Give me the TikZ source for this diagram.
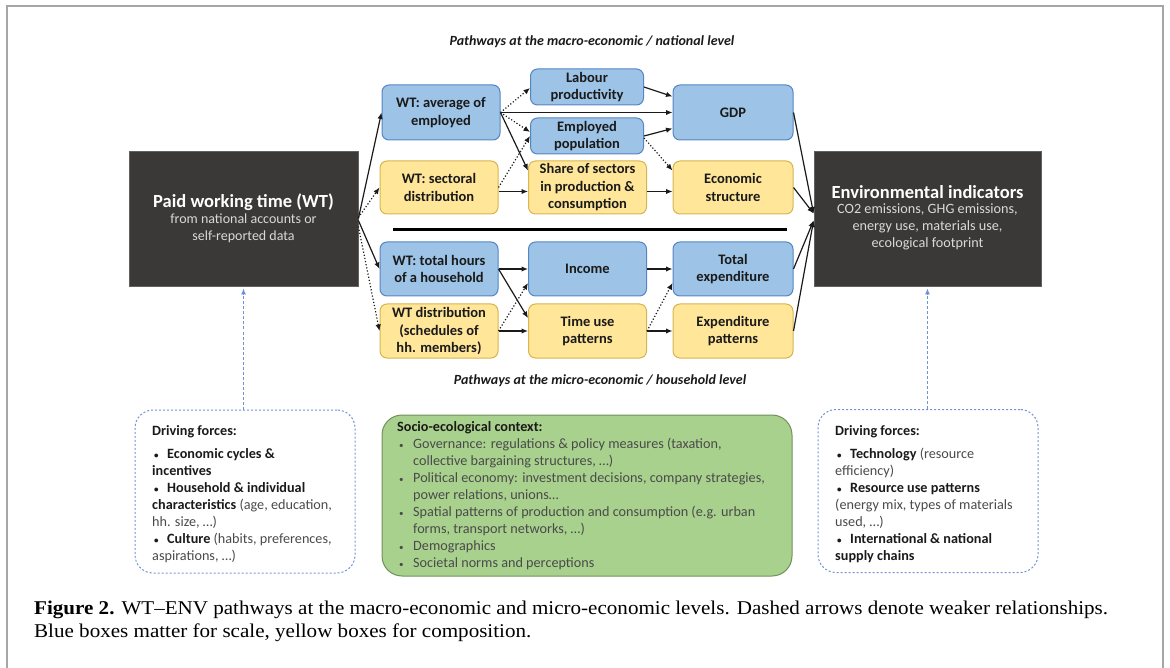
\documentclass[tikz,border=0pt]{standalone}
\usepackage{fontspec}
\setmainfont{Carlito}
\newfontfamily\capfont[FakeStretch=1.08]{Liberation Serif}
\usetikzlibrary{arrows.meta,calc}
\definecolor{bfill}{HTML}{9DC3E6}
\definecolor{bdraw}{HTML}{5585C5}
\definecolor{yfill}{HTML}{FFE699}
\definecolor{ydraw}{HTML}{D9B44E}
\definecolor{darkfill}{HTML}{3B3838}
\definecolor{gfill}{HTML}{A9D18E}
\definecolor{gdraw}{HTML}{71905A}
\definecolor{dashblue}{HTML}{6F93D6}
\definecolor{txtgray}{HTML}{4A4A4A}
\definecolor{txtdark}{HTML}{1A1A1A}
\definecolor{framegray}{HTML}{A6A6A6}
\definecolor{subwhite}{HTML}{D9D9D9}
\newcommand\bb[1]{{\bfseries\color{txtdark}#1}}
\newcommand\sbul{{\fontsize{9}{9}\selectfont\textbullet}}
\newcommand\blt{\makebox[16pt][l]{\hspace{2pt}\sbul}}
\newcommand\ind{\hspace*{16pt}}
\newcommand\dbl{\makebox[15pt][l]{\hspace{2pt}\sbul}}
\begin{document}
\begin{tikzpicture}[x=1pt,y=-1pt,
  box/.style={draw, rounded corners=7pt, line width=1pt, align=center,
    font=\bfseries\fontsize{14.5}{17.5}\selectfont, inner sep=0pt, text=txtdark},
  bluebox/.style={box, fill=bfill, draw=bdraw},
  yelbox/.style={box, fill=yfill, draw=ydraw},
  darkbox/.style={fill=darkfill, draw=darkfill!80!white, line width=0.8pt, inner sep=0pt},
  darktitle/.style={text=white, inner sep=0pt, font=\bfseries\fontsize{18.5}{22}\selectfont},
  darksub/.style={text=subwhite, align=center, inner sep=0pt, anchor=north},
  arr/.style={-{Latex[length=6.5pt,width=5.5pt]}, line width=1.2pt, draw=txtdark},
  darr/.style={arr, dotted},
  dfbox/.style={draw=dashblue, line width=1pt, dash pattern=on 2pt off 2pt, rounded corners=18pt},
  dfarr/.style={draw=dashblue, line width=1pt, dash pattern=on 3pt off 2pt, -{Latex[length=6pt,width=5pt,fill=dashblue!90!black]}},
  lvl/.style={font=\bfseries\itshape\fontsize{14}{16}\selectfont, text=txtdark},
  dftext/.style={anchor=north west, align=left, inner sep=0pt, text=txtgray, font=\fontsize{14.2}{17}\selectfont},
  captext/.style={anchor=base west, inner sep=0pt, font=\capfont\fontsize{19.5}{24}\selectfont}
]
\useasboundingbox (0,0) rectangle (1170,668);
% frame
\draw[framegray, line width=1.5pt] (7,668) -- (7,6) -- (1163,6) -- (1163,668);

% level titles
\node[lvl] (macro) at (592,42) {Pathways at the macro-economic / national level};
\node[lvl] (micro) at (600,381) {Pathways at the micro-economic / household level};

% dark boxes
\node[darkbox, minimum width=229pt, minimum height=135pt] (paid) at (243.5,218.5) {};
\node[darktitle] (paidt) at (243.5,202) {Paid working time (WT)};
\node[darksub, font=\fontsize{14}{16.5}\selectfont] (paids) at (243.5,214) {from national accounts or\\self-reported data};
\node[darkbox, minimum width=227pt, minimum height=135pt] (env) at (927.5,218.5) {};
\node[darktitle] (envt) at (927.5,192) {Environmental indicators};
\node[darksub, font=\fontsize{14.2}{17}\selectfont] (envs) at (927.5,204) {CO2 emissions, GHG emissions,\\energy use, materials use,\\ecological footprint};

% macro boxes
\node[bluebox, minimum width=118pt, minimum height=55pt] (avg) at (441,112.5) {WT: average of\\employed};
\node[bluebox, minimum width=113pt, minimum height=36pt] (lab) at (587,87) {Labour\\productivity};
\node[bluebox, minimum width=113pt, minimum height=36pt] (emp) at (587,136) {Employed\\population};
\node[bluebox, minimum width=120pt, minimum height=55pt] (gdp) at (733,112.5) {GDP};
\node[yelbox, minimum width=118pt, minimum height=53pt] (sect) at (439,187.5) {WT: sectoral\\distribution};
\node[yelbox, minimum width=118pt, minimum height=53pt] (share) at (587.5,187.5) {Share of sectors\\in production \&\\consumption};
\node[yelbox, minimum width=120pt, minimum height=53pt] (econ) at (733,187.5) {Economic\\structure};

% separator
\draw[line width=3pt] (393,229.5) -- (787,229.5);

% micro boxes
\node[bluebox, minimum width=118pt, minimum height=54pt] (tot) at (439,269) {WT: total hours\\of a household};
\node[bluebox, minimum width=118pt, minimum height=54pt] (inc) at (587.5,269) {Income};
\node[bluebox, minimum width=120pt, minimum height=54pt] (texp) at (733,269) {Total\\expenditure};
\node[yelbox, minimum width=118pt, minimum height=54pt] (wtd) at (439,331) {WT distribution\\(schedules of\\hh. members)};
\node[yelbox, minimum width=118pt, minimum height=54pt] (tup) at (587.5,331) {Time use\\patterns};
\node[yelbox, minimum width=120pt, minimum height=54pt] (expp) at (733,331) {Expenditure\\patterns};

% arrows from paid WT
\draw[arr]  (paid.east) -- (avg.west);
\draw[darr] ($(paid.east)+(0,-1)$) -- (sect.west);
\draw[arr]  ($(paid.east)+(0,2)$) -- (tot.west);
\draw[darr] ($(paid.east)+(0,8)$) -- (wtd.west);

% macro arrows
\draw[darr] (avg.east) -- ($(lab.west)+(0,1)$);
\draw[arr]  (avg.east) -- (gdp.west);
\draw[darr] (avg.east) -- ($(emp.west)+(0,-4)$);
\draw[arr]  (avg.east) -- ($(share.west)+(0,-17)$);
\draw[darr] (sect.east) -- (emp.west);
\draw[arr]  ($(sect.east)+(0,4)$) -- ($(share.west)+(0,4)$);
\draw[arr]  (lab.east) -- ($(gdp.west)+(0,-16)$);
\draw[arr]  (emp.east) -- ($(gdp.west)+(0,16)$);
\draw[darr] ($(emp.east)+(0,2)$) -- ($(econ.west)+(0,-17)$);
\draw[arr]  ($(share.east)+(0,4)$) -- ($(econ.west)+(0,4)$);

% to environment
\draw[arr] (gdp.east) -- ($(env.west)+(0,-5)$);
\draw[arr] (econ.east) -- ($(env.west)+(0,-5)$);
\draw[arr] (texp.east) -- ($(env.west)+(0,2)$);
\draw[arr] (expp.east) -- ($(env.west)+(0,2)$);

% micro arrows
\draw[arr]  (tot.east) -- (inc.west);
\draw[arr]  (tot.east) -- ($(tup.west)+(0,-13)$);
\draw[darr] (wtd.east) -- ($(inc.west)+(0,14)$);
\draw[arr]  (wtd.east) -- (tup.west);
\draw[arr]  (inc.east) -- (texp.west);
\draw[darr] (tup.east) -- ($(texp.west)+(0,14)$);
\draw[arr]  (tup.east) -- (expp.west);

% driving forces left
\node[dfbox, minimum width=220pt, minimum height=163pt] (dfl) at (245,491.5) {};
\node[dftext] (dflt) at (152,425) {%
  \bb{Driving forces:}\\[6pt]
  \bb{\dbl Economic cycles \&}\\
  \bb{incentives}\\
  \bb{\dbl Household \& individual}\\
  \bb{characteristics} (age, education,\\
  hh. size, …)\\
  \bb{\dbl Culture} (habits, preferences,\\
  aspirations, …)};
\draw[dfarr] (dfl.north -| paid.south) -- ([yshift=-2pt]paid.south);

% driving forces right
\node[dfbox, minimum width=220pt, minimum height=163pt] (dfr) at (928,491) {};
\node[dftext] (dfrt) at (835,425) {%
  \bb{Driving forces:}\\[6pt]
  \bb{\dbl Technology} (resource\\
  efficiency)\\
  \bb{\dbl Resource use patterns}\\
  (energy mix, types of materials\\
  used, …)\\
  \bb{\dbl International \& national}\\
  \bb{supply chains}};
\draw[dfarr] (dfr.north -| env.south) -- ([yshift=-2pt]env.south);

% socio-ecological context
\node[draw=gdraw, fill=gfill, line width=1pt, rounded corners=20pt, minimum width=410pt, minimum height=161pt] (ctx) at (587,495.5) {};
\node[dftext] (ctxt) at (397,421) {%
  \bb{Socio-ecological context:}\\
  \blt Governance: regulations \& policy measures (taxation,\\
  \ind collective bargaining structures, …)\\
  \blt Political economy: investment decisions, company strategies,\\
  \ind power relations, unions…\\
  \blt Spatial patterns of production and consumption (e.g. urban\\
  \ind forms, transport networks, …)\\
  \blt Demographics\\
  \blt Societal norms and perceptions};

% caption
\node[captext] (cap1) at (34,614) {\textbf{Figure 2.} WT–ENV pathways at the macro-economic and micro-economic levels. Dashed arrows denote weaker relationships.};
\node[captext] (cap2) at (34,637.5) {Blue boxes matter for scale, yellow boxes for composition.};
\end{tikzpicture}
\end{document}
